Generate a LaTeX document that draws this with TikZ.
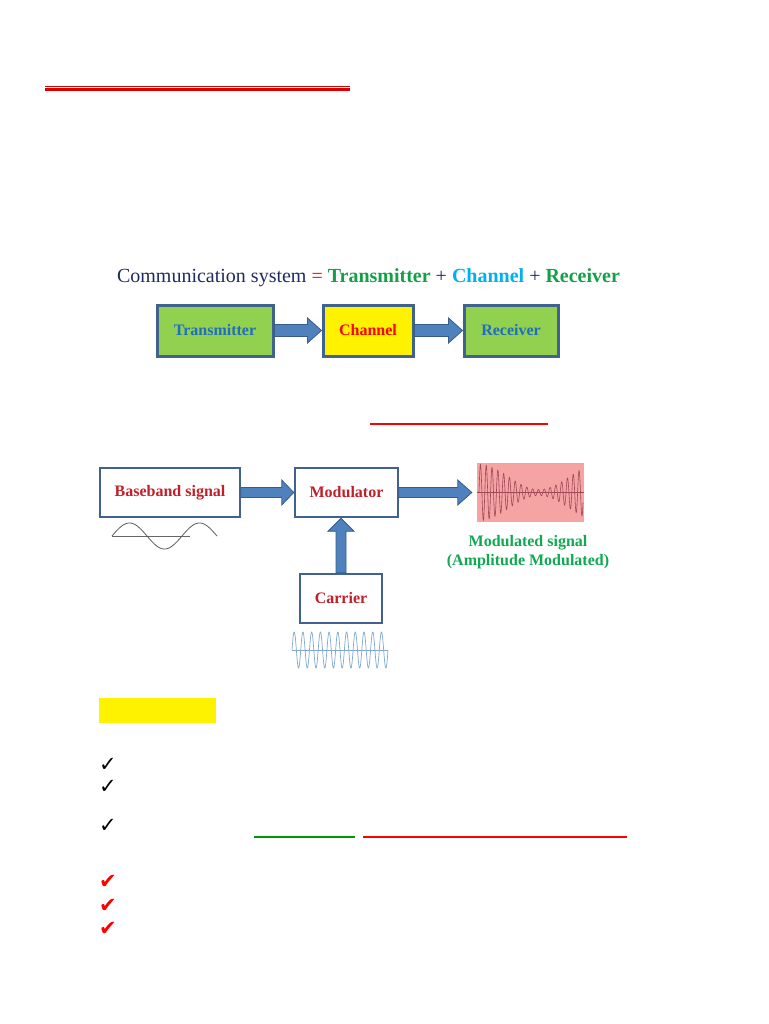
\documentclass[tikz,border=0pt]{standalone}
\usepackage{fontspec}
\setmainfont{Liberation Serif}
\newfontfamily\dejavu{DejaVu Sans}
\usetikzlibrary{calc}
\definecolor{ttlnavy}{HTML}{1F2A60}
\definecolor{ttlgreen}{HTML}{14A04A}
\definecolor{ttlcyan}{HTML}{00B0F0}
\definecolor{boxgreen}{HTML}{92D050}
\definecolor{boxedge}{HTML}{41628E}
\definecolor{boxtext}{HTML}{1F6EC0}
\definecolor{arrfill}{HTML}{4F81BD}
\definecolor{arredge}{HTML}{385D8A}
\definecolor{lblred}{HTML}{C0202A}
\definecolor{mgreen}{HTML}{10A850}
\definecolor{sigpink}{HTML}{F5A3A3}
\definecolor{sigwave}{HTML}{A04858}
\definecolor{carblue}{HTML}{7FA7D0}
\newcommand\blockh[5]{\draw[barrow] ($(#1)+(0,-#3)$) -- ($(#2)+(-#5,-#3)$) -- ($(#2)+(-#5,-#4)$) -- (#2) -- ($(#2)+(-#5,#4)$) -- ($(#2)+(-#5,#3)$) -- ($(#1)+(0,#3)$) -- cycle;}
\newcommand\blockv[5]{\draw[barrow] ($(#1)+(-#3,0)$) -- ($(#2)+(-#3,#5)$) -- ($(#2)+(-#4,#5)$) -- (#2) -- ($(#2)+(#4,#5)$) -- ($(#2)+(#3,#5)$) -- ($(#1)+(#3,0)$) -- cycle;}
\begin{document}
\begin{tikzpicture}[x=1pt,y=-1pt,
  topbox/.style={draw=boxedge, line width=3pt, inner sep=0pt, font=\bfseries\fontsize{16}{18}\selectfont},
  lowbox/.style={draw=boxedge, line width=2.5pt, fill=white, inner sep=0pt, text=lblred, font=\bfseries\fontsize{16}{18}\selectfont},
  barrow/.style={fill=arrfill, draw=arredge, line width=0.8pt, line join=miter},
  chk/.style={font=\dejavu\fontsize{21}{21}\selectfont, inner sep=0pt}]
\useasboundingbox (0,0) rectangle (768,1024);
% top double rule
\draw[red!85!black, line width=1pt] (45,86.5) -- (350,86.5);
\draw[red!85!black, line width=2.2pt] (45,89.5) -- (350,89.5);
% title
\node[font=\fontsize{20}{24}\selectfont, inner sep=0pt] (title) at (368.5,277.5)
  {\textcolor{ttlnavy}{Communication system} \textcolor{red}{=} \textcolor{ttlgreen}{\bfseries Transmitter} \textcolor{ttlnavy}{+} \textcolor{ttlcyan}{\bfseries Channel} \textcolor{ttlnavy}{+} \textcolor{ttlgreen}{\bfseries Receiver}};
% top boxes
\node[topbox, fill=boxgreen, text=boxtext, minimum width=116pt, minimum height=51pt] (tx) at (215,330.5) {Transmitter};
\node[topbox, fill=yellow, text=red, minimum width=90pt, minimum height=51pt] (ch) at (368,330.5) {Channel};
\node[topbox, fill=boxgreen, text=boxtext, minimum width=94pt, minimum height=51pt] (rx) at (511,330.5) {Receiver};
\blockh{tx.east}{ch.west}{6}{12.5}{14}
\blockh{rx.west -| ch.east}{rx.west}{6}{12.5}{14}
% red underline
\draw[red, line width=2pt] (370,424) -- (548,424);
% second diagram
\node[lowbox, minimum width=140pt, minimum height=49pt] (bb) at (170,492.5) {Baseband signal};
\node[lowbox, minimum width=103pt, minimum height=49pt] (mod) at (346.5,492.5) {Modulator};
\node[lowbox, minimum width=82pt, minimum height=49pt] (car) at (341,598.5) {Carrier};
\node[fill=sigpink, minimum width=107pt, minimum height=59pt, inner sep=0pt] (sig) at (530.5,492.5) {};
\coordinate (tipm) at ($(sig.west)+(-5,0)$);
\blockh{bb.east}{mod.west}{5}{12.5}{12}
\blockh{mod.east}{tipm}{5}{12.5}{14}
\blockv{car.north}{car.north |- mod.south}{5}{13}{13}
% modulated waveform
\draw[sigwave, line width=0.5pt] (sig.west) -- (sig.east);
\draw[sigwave, line width=0.6pt] plot[domain=0:104, samples=500] ({\x+479}, {492.5 - (15.5+12.5*cos((\x/120)*360))*sin((\x/5.8)*360)});
\node[align=center, text=mgreen, font=\bfseries\fontsize{16}{19}\selectfont, inner sep=0pt] (mlab) at (528,552.5) {Modulated signal\\(Amplitude Modulated)};
% baseband sine
\draw[gray!80!black, line width=0.5pt] (112,536) -- (190,536);
\draw[gray!70!black, line width=0.8pt] plot[domain=0:105, samples=150] ({\x+112}, {536 - 13*sin((\x/70)*360)});
% carrier sine
\draw[carblue, line width=0.5pt] (292,650) -- (388,650);
\draw[carblue, line width=0.7pt] plot[domain=0:96, samples=500] ({\x+292}, {650 - 18*sin((\x/8.73)*360)});
% yellow highlight
\node[fill=yellow, minimum width=117pt, minimum height=25pt, inner sep=0pt] (hl) at (157.5,710.5) {};
% check marks
\node[chk] (c1) at (108,765) {✓};
\node[chk] (c2) at (108,787) {✓};
\node[chk] (c3) at (108,826) {✓};
\node[chk, text=red] (c4) at (108,882) {✔};
\node[chk, text=red] (c5) at (108,906) {✔};
\node[chk, text=red] (c6) at (108,929) {✔};
% underlines
\draw[green!60!black, line width=1.3pt] (254,837) -- (355,837);
\draw[red, line width=1.3pt] (363,837) -- (627,837);
\end{tikzpicture}
\end{document}
